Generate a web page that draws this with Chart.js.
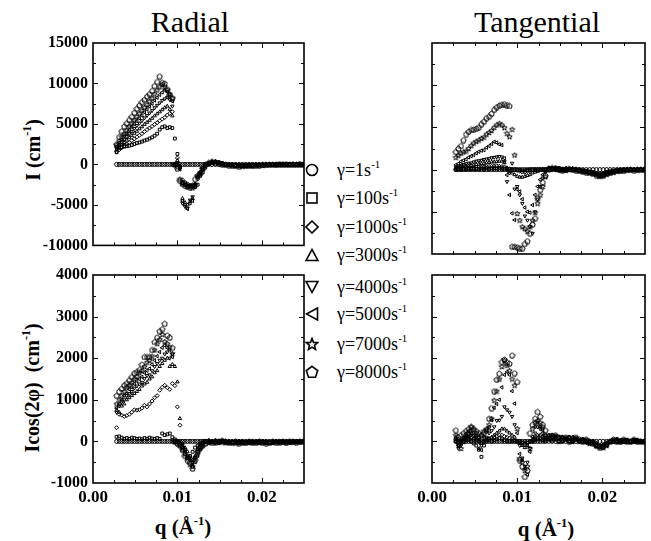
<!DOCTYPE html>
<html>
<head>
<meta charset="utf-8">
<script src="https://cdn.jsdelivr.net/npm/chart.js@4/dist/chart.umd.min.js"></script>
<style>
body { margin: 0; background: #fff; }
#page { position: relative; width: 651px; height: 541px; overflow: hidden; font-family: "Liberation Serif", "Tinos", "DejaVu Serif", serif; color: #000; }
canvas { position: absolute; }
.t { position: absolute; white-space: nowrap; transform: translate(-50%, -50%); }
.ttl { font-size: 30px; }
.ax { font-size: 20px; font-weight: bold; }
.yx { transform: translate(-50%, -50%) rotate(-90deg); }
sup { font-size: 0.6em; vertical-align: 0.7em; line-height: 0; }
.lg { position: absolute; left: 337px; font-size: 18px; line-height: 20px; white-space: nowrap; }
.mk { position: absolute; left: 305px; }
</style>
</head>
<body>
<div id="page">
  <div class="t ttl" style="left:190px;top:22px">Radial</div>
  <div class="t ttl" style="left:537px;top:22px">Tangential</div>
  <div class="t ax yx" style="left:33px;top:150px">I (cm<sup>-1</sup>)</div>
  <div class="t ax yx" style="left:32px;top:388px">Icos(2φ)&nbsp;&nbsp;(cm<sup>-1</sup>)</div>
  <div class="t ax" style="left:183px;top:527px;font-size:21px">q (Å<sup>-1</sup>)</div>
  <div class="t ax" style="left:546px;top:529px;font-size:21px">q (Å<sup>-1</sup>)</div>
  <div id="legend"></div>
</div>
<script>
// q grid (1/Angstrom), shared by every series
const q = [0.0028,0.0031,0.0034,0.0037,0.0040,0.0043,0.0046,0.0049,0.0052,0.0055,0.0058,0.0061,
  0.0064,0.0067,0.0070,0.0073,0.0076,0.0079,0.0082,0.0085,0.0088,0.0091,0.0094,0.0097,
  0.0100,0.0103,0.0106,0.0109,0.0112,0.0115,0.0118,0.0121,0.0124,0.0127,0.0130,0.0133,
  0.0137,0.0141,0.0145,0.0149,0.0153,0.0157,0.0161,0.0165,0.0169,0.0173,0.0177,0.0181,0.0185,0.0189,
  0.0193,0.0197,0.0201,0.0205,0.0209,0.0213,0.0217,0.0221,0.0225,0.0229,0.0233,0.0237,0.0241,0.0245,0.0249];

const gammaLabels = ['1', '100', '1000', '3000', '4000', '5000', '7000', '8000'];

// gamma = 1 s^-1 stays on zero in all four panels
const gamma1 = [0,0,0,0,0,0,0,0,0,0,0,0, 0,0,0,0,0,0,0,0,0,0,0,0, 0,0,0,0,0,0,0,0,0,0,0,0,
  0,0,0,0,0,0,0,0,0,0,0,0,0,0,0,0,0,0,0,0,0,0,0,0,0,0,0,0,0];

// Radial, I (cm^-1)
const radI_100 = [1500,2000,2150,2200,2250,2320,2400,2520,2640,2720,2820,2950, 3050,3200,3350,3550,3800,4300,4600,4700,4500,4600,4500,3200,
  1300,-300,-2300,-2500,-2600,-2700,-2600,-2800,-2500,-1400,-1000,-400,
  150,300,300,250,150,50,0,-50,-100,-150,-150,-200,-150,-150,-100,-100,-150,-100,-50,-50,0,-50,0,0,50,0,50,0,0];
const radI_1000 = [1600,1800,2050,2300,2500,2700,2950,3150,3400,3600,3800,4050, 4300,4500,4700,4950,5150,5400,5600,5800,6100,6300,6500,0,
  800,-200,-1900,-2200,-2400,-2600,-2700,-2500,-1800,-1200,-700,-200,
  100,250,350,200,100,0,-50,-100,-150,-150,-200,-150,-100,-150,-100,-50,-100,-50,0,0,-50,0,50,0,0,50,0,50,0];
const radI_3000 = [1800,2100,2400,2700,3000,3300,3550,3850,4100,4400,4650,4950, 5200,5450,5700,6000,6250,6500,6750,7000,7200,6800,6000,0,
  500,-400,-4200,-4700,-5000,-4600,-4200,-2400,-1500,-1000,-500,-100,
  200,350,250,150,50,0,-100,-100,-150,-200,-150,-150,-100,-100,-150,-100,-50,-50,0,0,0,50,0,50,0,0,0,50,0];
const radI_4000 = [2000,2400,2750,3100,3450,3800,4100,4450,4800,5100,5400,5750, 6050,6350,6650,7000,7300,7600,7900,8100,8300,8000,7200,0,
  200,-500,-4800,-5200,-5400,-4400,-4000,-2800,-1600,-1100,-600,-200,
  50,200,300,250,100,50,0,-50,-100,-100,-150,-100,-150,-100,-50,-100,-50,0,-50,0,0,0,50,0,0,50,0,0,50];
const radI_5000 = [2200,2700,3100,3500,3850,4250,4650,5000,5350,5700,6050,6450, 6800,7150,7500,7900,8250,8600,8900,9200,9000,8600,7800,0,
  0,-600,-4500,-5000,-5500,-4800,-4500,-2600,-1500,-900,-400,0,
  150,300,300,250,150,50,0,-50,-100,-150,-150,-200,-150,-150,-100,-100,-150,-100,-50,-50,0,-50,0,0,50,0,50,0,0];
const radI_7000 = [2400,2900,3400,3800,4250,4700,5100,5500,5900,6300,6700,7050, 7400,7800,8200,8700,9200,9600,9900,9600,9200,8700,8200,0,
  -300,-1800,-2200,-2400,-2700,-2600,-2900,-2500,-1400,-1000,-500,0,
  100,250,350,200,100,0,-50,-100,-150,-150,-200,-150,-100,-150,-100,-50,-100,-50,0,0,-50,0,50,0,0,50,0,50,0];
const radI_8000 = [2500,3400,4100,4700,5100,5500,5900,6400,6900,7300,7700,8000, 8400,8700,9100,9700,10200,10900,10100,10000,9300,8600,8200,0,
  -500,-2000,-2400,-2600,-2700,-2800,-2600,-1800,-1400,-1100,-500,0,
  200,350,250,150,50,0,-100,-100,-150,-200,-150,-150,-100,-100,-150,-100,-50,-50,0,0,0,50,0,50,0,0,0,50,0];

// Tangential, I (cm^-1)
const tanI_100 = [0,20,30,50,60,50,80,100,80,100,120,100, 150,120,150,180,150,200,150,100,50,0,0,0,
  0,-50,-100,-100,-50,0,0,0,0,0,0,0,
  -100,0,100,200,100,0,-50,0,50,0,-100,-150,-250,-300,-400,-450,-400,-300,-200,-150,-100,0,0,-50,0,0,0,0,0];
const tanI_1000 = [50,80,100,120,150,180,200,220,250,280,300,320, 350,380,400,420,450,400,350,300,200,100,0,0,
  -100,-200,-300,-300,-200,-100,0,0,0,0,0,0,
  200,100,0,-100,0,150,100,0,-50,-100,-150,-200,-300,-350,-500,-600,-500,-400,-300,-200,-100,-50,0,0,-50,0,0,50,0];
const tanI_3000 = [150,200,300,350,400,450,500,550,600,650,700,750, 800,850,900,900,950,1000,1000,800,200,-200,-400,-600,
  -800,-900,-900,-800,-700,-600,-400,-300,-200,-100,0,0,
  0,150,200,100,0,-100,0,100,50,-100,-200,-250,-350,-450,-550,-800,-700,-550,-400,-300,-200,-150,-100,-50,0,0,-50,0,0];
const tanI_4000 = [300,400,500,600,700,750,800,900,1000,1050,1100,1200, 1250,1300,1400,1450,1500,1550,1500,940,-1430,-400,750,-2300,
  -2000,-3000,-4000,-5500,-6000,-6770,-7550,-5000,-3500,-2000,-1000,-300,
  100,200,150,0,-100,0,100,0,-100,-150,-200,-300,-400,-500,-650,-700,-650,-500,-350,-250,-150,-100,-50,0,0,-50,0,0,0];
const tanI_5000 = [550,700,950,1100,1220,1450,1600,1730,1950,2120,2250,2320, 2600,2800,3030,3300,3200,3000,2900,1340,-640,-3000,-5180,-5970,
  -2330,-2600,-3500,-4500,-5000,-5100,-4200,-3000,-2000,-1200,-600,-200,
  200,100,0,-100,0,150,100,0,-50,-100,-150,-200,-300,-350,-500,-600,-500,-400,-300,-200,-100,-50,0,0,-50,0,0,50,0];
const tanI_7000 = [1450,1700,1950,2100,2200,2500,2850,3150,3350,3500,3700,3850, 4200,4400,4650,5000,5300,5490,5300,4970,4300,3900,4780,1730,
  -5200,-6000,-6770,-7000,-7300,-6770,-6000,-5100,-4000,-3000,-2000,-850,
  0,150,200,100,0,-100,0,100,50,-100,-200,-250,-350,-450,-550,-800,-700,-550,-400,-300,-200,-150,-100,-50,0,0,-50,0,0];
const tanI_8000 = [2100,2500,2800,3500,4200,4500,4700,4750,4850,5000,5400,5700, 6100,6300,6650,7100,7400,7600,7700,7770,7650,7550,-9100,-9140,
  -9200,-9300,-9330,-8800,-8460,-7550,-6500,-5770,-3400,-2400,-1500,-700,
  100,200,150,0,-100,0,100,0,-100,-150,-200,-300,-400,-500,-650,-700,-650,-500,-350,-250,-150,-100,-50,0,0,-50,0,0,0];

// Radial, Icos(2phi) (cm^-1)
const radC_100 = [110,120,90,60,80,60,90,80,60,70,50,80, 60,90,70,60,80,60,190,150,170,190,100,50,
  0,-100,-200,-300,-400,-350,-250,-150,-100,-50,0,0,
  0,-20,-30,0,20,0,-30,-20,0,-40,-30,-20,0,-30,-20,0,-20,-40,-30,0,-20,-30,0,-20,0,0,-20,0,0];
const radC_1000 = [330,650,630,600,620,650,700,760,750,760,800,870, 830,900,970,1050,1100,1230,1300,1350,1290,1250,1390,1340,
  830,390,0,-200,-370,-450,-600,-400,-250,-100,-50,0,
  20,0,-20,-40,0,-20,0,-30,-20,0,-20,-20,-40,-20,0,-20,0,-20,-30,-40,-20,0,-20,0,-30,0,0,-20,0];
const radC_3000 = [750,700,850,900,1000,1050,1100,1150,1200,1250,1330,1380, 1420,1500,1550,1650,1700,1800,1870,1950,2000,1800,1850,1800,
  1430,550,-50,-150,-250,-350,-450,-350,-200,-100,-50,0,
  -30,0,20,0,-20,-30,0,-20,-40,-20,0,-30,-20,0,-20,-30,-20,0,-30,-20,0,0,-20,-30,0,-20,0,-10,0];
const radC_4000 = [700,850,950,1000,1100,1150,1200,1280,1330,1380,1420,1510, 1580,1600,1700,1800,1870,1950,2000,2100,2150,2000,2100,0,
  0,-50,-150,-200,-350,-400,-500,-380,-250,-150,-50,0,
  0,-20,-30,0,20,0,-30,-20,0,-40,-30,-20,0,-30,-20,0,-20,-40,-30,0,-20,-30,0,-20,0,0,-20,0,0];
const radC_5000 = [800,900,1000,1100,1150,1250,1300,1380,1450,1500,1550,1650, 1700,1750,1850,1950,2050,2150,2250,2310,2250,2200,2030,0,
  -30,-50,-100,-250,-400,-450,-550,-500,-350,-200,-100,0,
  20,0,-20,-40,0,-20,0,-30,-20,0,-20,-20,-40,-20,0,-20,0,-20,-30,-40,-20,0,-20,0,-30,0,0,-20,0];
const radC_7000 = [900,1000,1100,1200,1300,1350,1420,1500,1560,1650,1700,1800, 1900,1950,2050,2200,2350,2450,2570,2400,2350,2270,2110,0,
  0,-80,-150,-300,-400,-550,-600,-400,-300,-150,-50,0,
  -30,0,20,0,-20,-30,0,-20,-40,-20,0,-30,-20,0,-20,-30,-20,0,-30,-20,0,0,-20,-30,0,-20,0,-10,0];
const radC_8000 = [1100,1200,1270,1350,1400,1470,1550,1640,1670,1720,1850,2030, 2030,2030,2200,2390,2500,2650,2700,2830,2550,2500,2250,0,
  -50,-100,-200,-350,-450,-500,-650,-450,-250,-150,-100,-50,
  0,-20,-30,0,20,0,-30,-20,0,-40,-30,-20,0,-30,-20,0,-20,-40,-30,0,-20,-30,0,-20,0,0,-20,0,0];

// Tangential, Icos(2phi) (cm^-1)
const tanC_100 = [0,-80,-50,0,30,50,0,-50,-100,-200,-370,-100, 0,50,0,30,50,80,50,30,0,0,0,0,
  0,0,-30,-50,-30,0,0,30,50,50,30,0,
  50,150,100,0,100,50,100,0,50,0,50,0,-50,0,-100,-120,-150,-100,0,0,50,0,0,30,0,0,30,0,0];
const tanC_1000 = [50,0,-50,0,50,50,80,50,30,0,-30,0, 30,50,80,100,120,150,150,120,100,80,50,30,
  0,0,-50,-80,-50,0,30,60,80,80,50,30,
  150,100,50,100,0,50,0,100,50,0,0,-30,0,-50,-50,-100,-80,-50,0,0,0,30,0,0,0,30,0,0,0];
const tanC_3000 = [100,50,0,50,80,100,100,80,50,0,-50,0, 50,70,100,150,200,250,300,300,250,200,150,100,
  0,-50,-100,-150,-100,0,50,100,150,150,100,50,
  50,150,100,0,100,50,100,0,50,0,50,0,-50,0,-100,-120,-150,-100,0,0,50,0,0,30,0,0,30,0,0];
const tanC_4000 = [0,-170,-100,50,100,150,200,150,100,50,-100,0, 100,200,260,350,500,510,600,830,760,700,600,400,
  0,-100,-400,-600,-500,-170,0,200,350,300,200,100,
  100,50,150,100,50,100,0,50,100,50,0,50,0,-50,-100,-150,-100,-50,0,50,0,0,50,0,0,50,0,0,0];
const tanC_5000 = [70,-100,0,100,180,250,200,150,100,-170,-210,100, 270,350,510,810,900,1000,1300,1600,1670,1600,1210,910,
  200,-300,-450,-650,-800,-250,110,350,450,350,270,150,
  150,100,50,100,0,50,0,100,50,0,0,-30,0,-50,-50,-100,-80,-50,0,0,0,30,0,0,0,30,0,0,0];
const tanC_7000 = [150,-50,-170,0,110,190,350,280,200,100,150,250, 300,400,550,990,1210,1500,1800,1950,1830,1700,1500,1350,
  310,-410,-500,-700,-600,-170,300,450,500,450,350,150,
  50,150,100,0,100,50,100,0,50,0,50,0,-50,0,-100,-120,-150,-100,0,0,50,0,0,30,0,0,30,0,0];
const tanC_8000 = [270,100,150,200,250,300,350,300,250,200,150,200, 270,550,800,1210,1490,1630,1910,1970,1900,1870,2070,1640,
  1430,-450,-600,-850,-700,200,400,550,710,600,400,270,
  100,50,150,100,50,100,0,50,100,50,0,50,0,-50,-100,-150,-100,-50,0,50,0,0,50,0,0,50,0,0,0];

// axis ticks
const qTickLabels = [0, 0.01, 0.02];
const qTickMarks = [0.0025, 0.005, 0.0075, 0.01, 0.0125, 0.015, 0.0175, 0.02, 0.0225];
const iTickLabels = [15000, 10000, 5000, 0, -5000, -10000];
const iTickMarks = [-7500, -5000, -2500, 0, 2500, 5000, 7500, 10000, 12500];
const cTickLabels = [4000, 3000, 2000, 1000, 0, -1000];
const cTickMarks = [-500, 0, 500, 1000, 1500, 2000, 2500, 3000, 3500];

const FONT = "'Liberation Serif', 'Tinos', 'DejaVu Serif', serif";

function polyCanvas(n, inner) {
  const c = document.createElement('canvas');
  c.width = 7; c.height = 7;
  const g = c.getContext('2d');
  g.strokeStyle = '#000';
  g.lineWidth = 1;
  g.beginPath();
  const k = inner ? n * 2 : n;
  for (let j = 0; j < k; j++) {
    const a = -Math.PI / 2 + j * 2 * Math.PI / k;
    const r = inner && j % 2 ? 1.2 : 2.8;
    const px = 3.5 + r * Math.cos(a), py = 3.8 + r * Math.sin(a);
    j ? g.lineTo(px, py) : g.moveTo(px, py);
  }
  g.closePath();
  g.stroke();
  return c;
}

const markers = [
  {pointStyle: 'circle'},
  {pointStyle: 'rect'},
  {pointStyle: 'rectRot'},
  {pointStyle: 'triangle'},
  {pointStyle: 'triangle', pointRotation: 180},
  {pointStyle: 'triangle', pointRotation: -90},
  {pointStyle: polyCanvas(5, true)},
  {pointStyle: polyCanvas(5, false)}
];

const frame = {
  id: 'frame',
  afterDatasetsDraw(chart, args, o) {
    const {ctx, chartArea: a, scales: {x, y}} = chart;
    ctx.save();
    ctx.strokeStyle = '#000';
    ctx.lineWidth = 1;
    ctx.beginPath();
    for (const v of o.xMarks) {
      const px = Math.round(x.getPixelForValue(v)) + 0.5;
      const len = o.xMajor.includes(v) ? 5 : 3;
      ctx.moveTo(px, a.bottom); ctx.lineTo(px, a.bottom - len);
      ctx.moveTo(px, a.top); ctx.lineTo(px, a.top + len);
    }
    for (const v of o.yMarks) {
      const py = Math.round(y.getPixelForValue(v)) + 0.5;
      const len = o.yMajor.includes(v) ? 5 : 3;
      ctx.moveTo(a.left, py); ctx.lineTo(a.left + len, py);
      ctx.moveTo(a.right, py); ctx.lineTo(a.right - len, py);
    }
    ctx.stroke();
    ctx.lineWidth = 1.6;
    ctx.strokeRect(a.left, a.top, a.right - a.left, a.bottom - a.top);
    ctx.restore();
  }
};

function makePanel(p) {
  const [L, T, R, B] = p.box;
  const padTop = 20, axisW = 60, bottomH = p.showX ? 30 : 6, padRight = 6;
  const cv = document.createElement('canvas');
  cv.width = (R - L) + axisW + padRight;
  cv.height = (B - T) + padTop + bottomH;
  cv.style.left = (L - axisW) + 'px';
  cv.style.top = (T - padTop) + 'px';
  document.getElementById('page').appendChild(cv);

  const datasets = p.series.map((vals, k) => Object.assign({
    label: 'γ=' + gammaLabels[k] + 's-1',
    data: q.map((x, i) => ({x: x, y: vals[i]})),
    showLine: false,
    pointRadius: 2,
    pointBorderWidth: 1,
    pointBorderColor: '#000',
    pointBackgroundColor: 'rgba(0,0,0,0)'
  }, markers[k]));

  new Chart(cv, {
    type: 'scatter',
    data: {datasets: datasets},
    options: {
      responsive: false,
      animation: false,
      devicePixelRatio: 1,
      layout: {padding: {top: padTop, right: padRight, left: 0, bottom: 0}},
      plugins: {
        legend: {display: false},
        tooltip: {enabled: false},
        frame: {xMarks: qTickMarks, xMajor: [0.01, 0.02], yMarks: p.yMarks, yMajor: p.yLabels}
      },
      scales: {
        x: {
          type: 'linear', min: 0, max: 0.025,
          grid: {display: false, drawTicks: false}, border: {display: false},
          afterBuildTicks: s => { s.ticks = qTickLabels.map(v => ({value: v})); },
          afterFit: s => { s.height = bottomH; },
          ticks: {display: p.showX, padding: 4, color: '#000', maxRotation: 0, autoSkip: false,
            font: {family: FONT, size: 17, weight: 'bold'}, callback: v => v.toFixed(2)}
        },
        y: {
          type: 'linear', min: p.yMin, max: p.yMax,
          grid: {display: false, drawTicks: false}, border: {display: false},
          afterBuildTicks: s => { s.ticks = p.yLabels.map(v => ({value: v})); },
          afterFit: s => { s.width = axisW; },
          ticks: {display: p.showY, padding: 5, color: '#000', autoSkip: false,
            font: {family: FONT, size: 16, weight: 'bold'}, callback: v => String(v)}
        }
      }
    },
    plugins: [frame]
  });
}

makePanel({box: [93, 43, 304, 254], yMin: -10000, yMax: 15000, yLabels: iTickLabels, yMarks: iTickMarks,
  showY: true, showX: false,
  series: [gamma1, radI_100, radI_1000, radI_3000, radI_4000, radI_5000, radI_7000, radI_8000]});
makePanel({box: [432, 43, 645, 254], yMin: -10000, yMax: 15000, yLabels: iTickLabels, yMarks: iTickMarks,
  showY: false, showX: false,
  series: [gamma1, tanI_100, tanI_1000, tanI_3000, tanI_4000, tanI_5000, tanI_7000, tanI_8000]});
makePanel({box: [93, 275, 304, 483], yMin: -1000, yMax: 4000, yLabels: cTickLabels, yMarks: cTickMarks,
  showY: true, showX: true,
  series: [gamma1, radC_100, radC_1000, radC_3000, radC_4000, radC_5000, radC_7000, radC_8000]});
makePanel({box: [432, 275, 645, 483], yMin: -1000, yMax: 4000, yLabels: cTickLabels, yMarks: cTickMarks,
  showY: false, showX: true,
  series: [gamma1, tanC_100, tanC_1000, tanC_3000, tanC_4000, tanC_5000, tanC_7000, tanC_8000]});

// legend column between the panels
const legendRows = [170, 198, 227, 255, 287, 314, 344, 372];
const legendShapes = [
  '<circle cx="7" cy="7" r="5.5"/>',
  '<rect x="2" y="2" width="10" height="10"/>',
  '<polygon points="7,1 13,7 7,13 1,7"/>',
  '<polygon points="7,1.5 13,12.5 1,12.5"/>',
  '<polygon points="1,1.5 13,1.5 7,12.5"/>',
  '<polygon points="1.5,7 12.5,1 12.5,13"/>',
  '<polygon points="7,1.5 8.5,5.4 12.7,5.6 9.5,8.3 10.5,12.4 7,10.1 3.5,12.4 4.5,8.3 1.3,5.6 5.5,5.4"/>',
  '<polygon points="7,1.3 12.7,5.5 10.5,12.2 3.5,12.2 1.3,5.5"/>'
];
const lg = document.getElementById('legend');
legendRows.forEach((yy, k) => {
  lg.insertAdjacentHTML('beforeend',
    '<svg class="mk" width="14" height="14" style="top:' + (yy - 7) + 'px" fill="none" stroke="#000" stroke-width="1.6">' +
    legendShapes[k] + '</svg>' +
    '<div class="lg" style="top:' + (yy - 10) + 'px">γ=' + gammaLabels[k] + 's<sup>-1</sup></div>');
});
</script>
</body>
</html>
